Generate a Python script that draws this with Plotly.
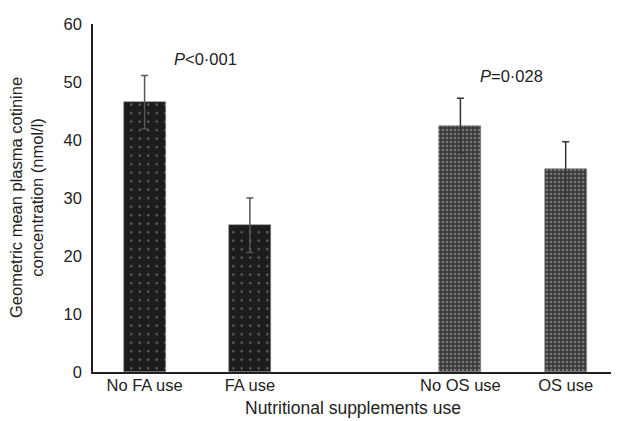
import plotly.graph_objects as go

# ---- data ----
fa_labels = ["No FA use", "FA use"]
fa_means = [46.5, 25.3]
fa_err = [4.6, 4.7]

os_labels = ["No OS use", "OS use"]
os_means = [42.5, 35.0]
os_err = [4.7, 4.7]

y_ticks = [0, 10, 20, 30, 40, 50, 60]
p_texts = ["<i>P</i>&lt;0·001", "<i>P</i>=0·028"]

# group layout: second group starts after an empty slot
fa_x = [i for i in range(len(fa_labels))]
os_x = [len(fa_labels) + 1 + i for i in range(len(os_labels))]

FONT = "Liberation Sans, Arial, sans-serif"
TXT = "#222222"
FS = 16.5

fig = go.Figure()
fig.add_trace(go.Bar(
    x=fa_x, y=fa_means, width=0.4,
    marker=dict(color="#1c1c1c", line=dict(color="#8a8a8a", width=0.6),
                pattern=dict(shape=".", fgcolor="#d8d8d8", bgcolor="#1c1c1c",
                             size=8.5, solidity=0.05, fillmode="overlay")),
    error_y=dict(type="data", array=fa_err, visible=True,
                 color="#555555", thickness=1.5, width=3.5),
    showlegend=False,
))
fig.add_trace(go.Bar(
    x=os_x, y=os_means, width=0.4,
    marker=dict(color="#3a3a3a", line=dict(color="#888888", width=0.6),
                pattern=dict(shape=".", fgcolor="#b4b4b4", bgcolor="#3a3a3a",
                             size=4, solidity=0.35, fillmode="overlay")),
    error_y=dict(type="data", array=os_err, visible=True,
                 color="#333333", thickness=1.5, width=3.5),
    showlegend=False,
))

fig.add_annotation(x=0.58, y=54, xref="x", yref="y", text=p_texts[0],
                   showarrow=False, font=dict(family=FONT, size=FS, color=TXT))
fig.add_annotation(x=3.49, y=51, xref="x", yref="y", text=p_texts[1],
                   showarrow=False, font=dict(family=FONT, size=FS, color=TXT))

# y-axis title (two lines)
fig.add_annotation(x=-0.129, y=0.5, xref="paper", yref="paper",
                   text="Geometric mean plasma cotinine<br>concentration (nmol/l)",
                   textangle=-90, showarrow=False, xanchor="center", yanchor="middle",
                   font=dict(family=FONT, size=FS, color=TXT))
# x-axis title
fig.add_annotation(x=0.5, y=-0.103, xref="paper", yref="paper",
                   text="Nutritional supplements use",
                   showarrow=False, xanchor="center", yanchor="middle",
                   font=dict(family=FONT, size=17.5, color=TXT))

fig.update_layout(
    width=611, height=413,
    margin=dict(l=85, r=7, t=11, b=49),
    paper_bgcolor="white", plot_bgcolor="white",
    font=dict(family=FONT, size=FS, color=TXT),
    bargap=0,
)
fig.update_xaxes(
    range=[-0.49, 4.44],
    tickvals=fa_x + os_x, ticktext=fa_labels + os_labels,
    showline=True, linecolor="#231f20", linewidth=1.6,
    showgrid=False, zeroline=False, ticks="",
    ticklabelstandoff=-3,
    tickfont=dict(family=FONT, size=FS, color=TXT),
)
fig.update_yaxes(
    range=[0, 60], tickvals=y_ticks,
    showline=True, linecolor="#231f20", linewidth=1.6,
    showgrid=False, zeroline=False, ticks="",
    ticklabelstandoff=6,
    tickfont=dict(family=FONT, size=FS, color=TXT),
)

fig.write_html("out.html")
